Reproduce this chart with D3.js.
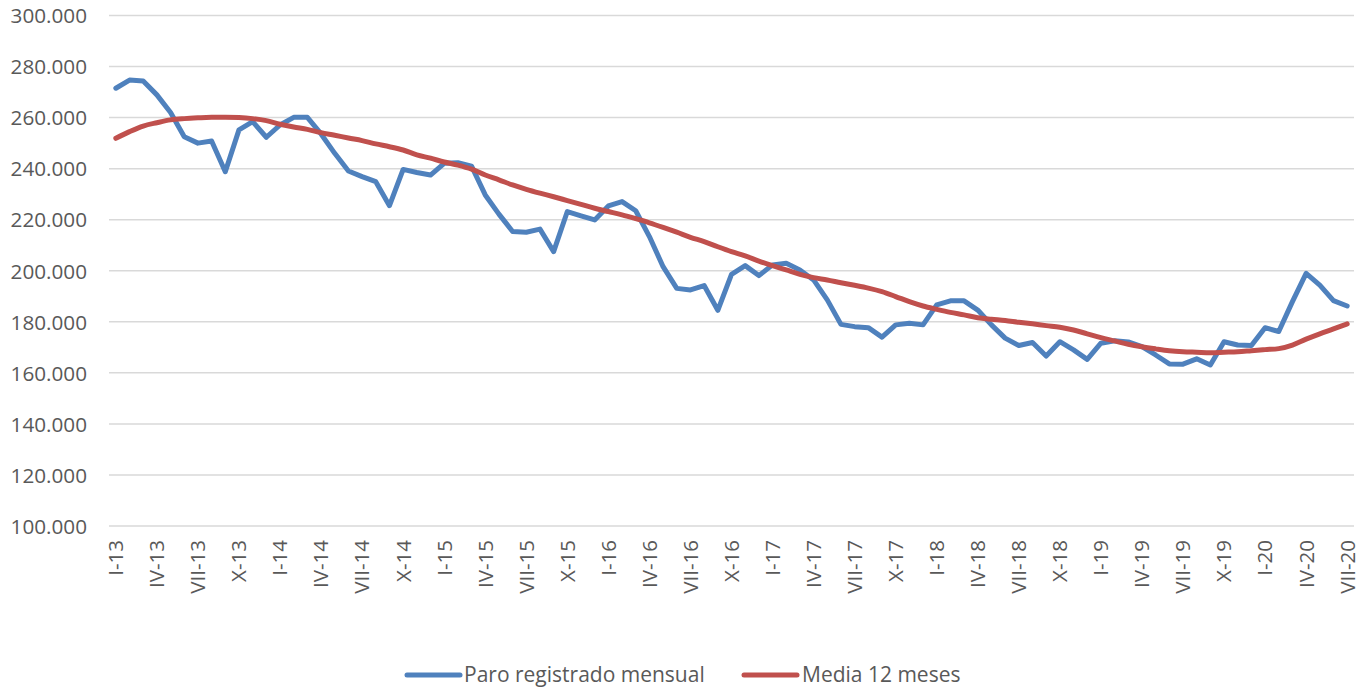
<!DOCTYPE html>
<html>
<head>
<meta charset="utf-8">
<script src="https://cdn.jsdelivr.net/npm/d3@7"></script>
<style>
  html, body { margin: 0; padding: 0; background: #ffffff; }
  svg { display: block; }
</style>
</head>
<body>
<svg id="chart" width="1372" height="692"></svg>
<script>
// ---- Data ----
const years = [13, 14, 15, 16, 17, 18, 19, 20];
const monthNumerals = ["I","II","III","IV","V","VI","VII","VIII","IX","X","XI","XII"];
const categories = [];
years.forEach(y => monthNumerals.forEach((m, i) => {
  if (y < 20 || i < 7) categories.push(m + "-" + y);
}));

const paroMensual = [
  271500, 274700, 274300, 268900, 262000, 252500, 250000, 250800, 238800, 255200,
  258400, 252300, 257100, 260100, 260100, 253600, 246000, 239100, 236900, 234900,
  225500, 239700, 238500, 237500, 242100, 242300, 241000, 229700, 222200, 215400,
  215100, 216300, 207500, 223200, 221500, 219900, 225400, 227100, 223500, 213400,
  201600, 193100, 192500, 194200, 184500, 198600, 202000, 198100, 202300, 202900,
  200300, 196400, 188600, 179000, 178100, 177700, 174000, 178800, 179400, 178800,
  186600, 188200, 188200, 184600, 178800, 173600, 170700, 171900, 166600, 172200,
  169000, 165300, 171600, 172600, 172100, 170300, 167000, 163500, 163400, 165500,
  163100, 172200, 170900, 170700, 177700, 176200, 187900, 199000, 194400, 188300,
  186200
];

const media12 = [
  251900, 254500, 256700, 258000, 259100, 259600, 259900, 260100, 260100, 260000,
  259600, 258800, 257400, 256300, 255400, 254100, 253100, 252000, 251000, 249700,
  248600, 247300, 245400, 244100, 242600, 241400, 239800, 237500, 235600, 233600,
  231900, 230400, 229000, 227500, 226000, 224500, 223200, 221900, 220400, 218800,
  217000, 215100, 213100, 211400, 209400, 207500, 205800, 203800, 202000, 200300,
  198600, 197300, 196400, 195300, 194300, 193200, 191800, 189900, 187900, 186200,
  184900, 183700, 182700, 181600, 181000, 180500, 179800, 179200, 178500, 177900,
  176800, 175300, 173800, 172500, 171200, 170200, 169400, 168700, 168300, 168100,
  167900, 168100, 168300, 168700, 169100, 169500, 170900, 173200, 175300, 177200,
  179200
];

const yTicks = [100000, 120000, 140000, 160000, 180000, 200000, 220000, 240000, 260000, 280000, 300000];
const seriesNames = ["Paro registrado mensual", "Media 12 meses"];
const seriesColors = ["#4f81bd", "#c0504d"];

// ---- Layout ----
const svg = d3.select("#chart");
const plot = { left: 109, right: 1354, top: 15.5, bottom: 526 };
const textColor = "#595959";
const fontFamily = "'Open Sans', 'Noto Sans', sans-serif";

const locale = d3.formatLocale({ decimal: ",", thousands: ".", grouping: [3], currency: ["", "€"] });
const fmt = locale.format(",.0f");

const x = d3.scaleBand().domain(categories).range([plot.left, plot.right]).padding(0);
const xc = c => x(c) + x.bandwidth() / 2;
const y = d3.scaleLinear().domain([100000, 300000]).range([plot.bottom, plot.top]);

// Gridlines
svg.append("g")
  .selectAll("line")
  .data(yTicks)
  .join("line")
  .attr("x1", plot.left).attr("x2", plot.right)
  .attr("y1", d => y(d)).attr("y2", d => y(d))
  .attr("stroke", "#d9d9d9").attr("stroke-width", 1.5);

// Y axis
const yAxis = svg.append("g")
  .attr("transform", `translate(${plot.left - 22},0)`)
  .call(d3.axisLeft(y).tickValues(yTicks).tickFormat(fmt).tickSize(0).tickPadding(0));
yAxis.select(".domain").remove();
yAxis.selectAll("text")
  .attr("fill", textColor)
  .style("font-family", fontFamily)
  .style("font-size", "20.7px")
  .attr("dy", "0.35em");

// X axis
const xLabels = categories.filter((c, i) => i % 3 === 0);
const xAxis = svg.append("g")
  .attr("transform", `translate(0,${plot.bottom})`)
  .call(d3.axisBottom(x).tickValues(xLabels).tickSize(0).tickPadding(0));
xAxis.select(".domain").remove();
xAxis.selectAll("text")
  .attr("fill", textColor)
  .style("font-family", fontFamily)
  .style("font-size", "20.5px")
  .attr("text-anchor", "end")
  .attr("transform", "translate(0,14) rotate(-90)")
  .attr("x", 0).attr("y", 0)
  .attr("dy", "0.36em");

// Lines
const series = [paroMensual, media12];
const line = d3.line()
  .x((d, i) => xc(categories[i]))
  .y(d => y(d));

series.forEach((s, k) => {
  svg.append("path")
    .datum(s)
    .attr("fill", "none")
    .attr("stroke", seriesColors[k])
    .attr("stroke-width", 5)
    .attr("stroke-linejoin", "round")
    .attr("stroke-linecap", "round")
    .attr("d", k === 1 ? line.curve(d3.curveMonotoneX)(s) : line.curve(d3.curveLinear)(s));
});

// Legend
const legendY = 675;
const legendItems = [
  { x1: 407, x2: 460, tx: 464 },
  { x1: 744, x2: 797, tx: 802 }
];
const legend = svg.append("g");
seriesNames.forEach((name, k) => {
  const it = legendItems[k];
  legend.append("line")
    .attr("x1", it.x1).attr("x2", it.x2)
    .attr("y1", legendY).attr("y2", legendY)
    .attr("stroke", seriesColors[k]).attr("stroke-width", 5)
    .attr("stroke-linecap", "round");
  legend.append("text")
    .attr("x", it.tx).attr("y", legendY)
    .attr("dy", "0.35em")
    .attr("fill", textColor)
    .style("font-family", fontFamily)
    .style("font-size", "21px")
    .text(name);
});
</script>
</body>
</html>
